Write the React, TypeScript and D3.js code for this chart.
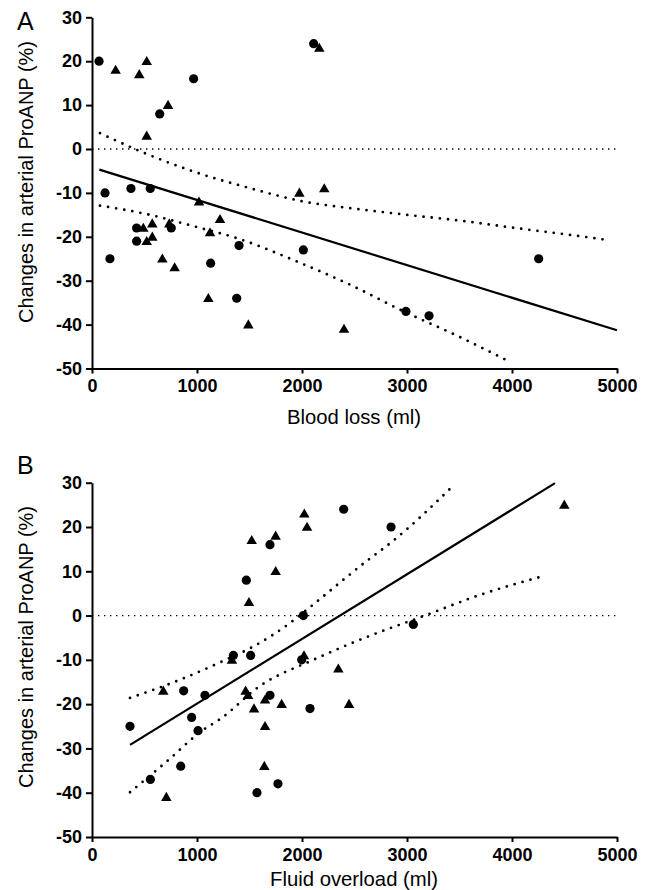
import React, { useEffect, useRef } from 'react';
import * as d3 from 'd3';

// Panel A: blood loss (ml) vs change in arterial ProANP (%)
const circlesA: [number, number][] = [
  [67, 20], [968, 16], [645, 8], [2111, 24], [124, -10], [371, -9], [555, -9],
  [425, -18], [755, -18], [425, -21], [1400, -22], [2013, -23], [171, -25],
  [1130, -26], [1378, -34], [4254, -25], [2990, -37], [3210, -38],
];
const trianglesA: [number, number][] = [
  [225, 18], [450, 17], [521, 20], [724, 10], [521, 3], [2165, 23], [1975, -10],
  [2212, -9], [1019, -12], [489, -18], [574, -17], [736, -17], [1219, -16],
  [521, -21], [574, -20], [1124, -19], [670, -25], [787, -27], [1108, -34],
  [1489, -40], [2400, -41],
];
const fitA: [number, number][] = [[70, -4.7], [5000, -41.3]];
const upperA: [number, number][] = [
  [76, 3.6], [457, -0.5], [1000, -5.4], [1500, -8.9], [2000, -11.9], [2500, -13.6],
  [3000, -15], [3568, -16.5], [4000, -17.9], [4500, -19.4], [4933, -20.8],
];
const lowerA: [number, number][] = [
  [76, -12.9], [552, -15], [1000, -17.8], [1378, -20.3], [1949, -25.6],
  [2500, -31.4], [2933, -36.6], [3500, -42.8], [3997, -48.7],
];

// Panel B: fluid overload (ml) vs change in arterial ProANP (%)
const circlesB: [number, number][] = [
  [1695, 16], [2397, 24], [1470, 8], [2013, 0], [2848, 20], [3060, -2], [1997, -10],
  [2076, -21], [362, -25], [873, -17], [1076, -18], [949, -23], [1010, -26],
  [1346, -9], [1511, -9], [1695, -18], [845, -34], [556, -37], [1771, -38], [1571, -40],
];
const trianglesB: [number, number][] = [
  [1521, 17], [1749, 18], [2022, 23], [2048, 20], [1749, 10], [1495, 3], [4498, 25],
  [2019, -9], [2346, -12], [2448, -20], [679, -17], [1333, -10], [1463, -17],
  [1486, -18], [1648, -19], [1543, -21], [1806, -20], [1648, -25], [1641, -34], [708, -41],
];
const fitB: [number, number][] = [[362, -29.2], [4410, 29.9]];
const upperB: [number, number][] = [
  [362, -18.6], [838, -14.5], [1235, -10.4], [1536, -7], [1902, -1.4], [2092, 2.2],
  [2632, 12.6], [2838, 16.3], [3457, 29.7],
];
const lowerB: [number, number][] = [
  [362, -39.9], [700, -33.2], [1060, -25.8], [1219, -23.4], [1600, -15.9],
  [2108, -10], [2632, -4.7], [3171, 0], [3700, 4.7], [4314, 9],
];

const xTicks = [0, 1000, 2000, 3000, 4000, 5000];
const yTicks = [-50, -40, -30, -20, -10, 0, 10, 20, 30];

const FONT = '"Liberation Sans", Arial, Helvetica, sans-serif';

export default function App() {
  const svgRef = useRef<SVGSVGElement>(null);

  useEffect(() => {
    const svg = d3.select(svgRef.current);
    svg.selectAll('*').remove();

    const panels = [
      {
        letter: 'A', top: 17.3, bottom: 368.5, xTitle: 'Blood loss (ml)', titleY: 424,
        labelY: 182, letterY: 30, circles: circlesA, triangles: trianglesA,
        fit: fitA, upper: upperA, lower: lowerA,
      },
      {
        letter: 'B', top: 482.7, bottom: 837, xTitle: 'Fluid overload (ml)', titleY: 886,
        labelY: 647, letterY: 474, circles: circlesB, triangles: trianglesB,
        fit: fitB, upper: upperB, lower: lowerB,
      },
    ];

    panels.forEach(p => {
      const x = d3.scaleLinear().domain([0, 5000]).range([92, 617]);
      const y = d3.scaleLinear().domain([-50, 30]).range([p.bottom, p.top]);
      const g = svg.append('g');

      // zero reference line
      g.append('line')
        .attr('x1', x(0)).attr('x2', x(5000)).attr('y1', y(0)).attr('y2', y(0))
        .attr('stroke', '#000').attr('stroke-width', 1.3).attr('stroke-dasharray', '1.4 4.6');

      const line = d3.line<[number, number]>().x(d => x(d[0])).y(d => y(d[1])).curve(d3.curveMonotoneX);

      // confidence bands
      [p.upper, p.lower].forEach(band => {
        g.append('path').datum(band).attr('d', line).attr('fill', 'none')
          .attr('stroke', '#000').attr('stroke-width', 2.8)
          .attr('stroke-linecap', 'round').attr('stroke-dasharray', '0 8.2');
      });

      // regression line
      g.append('path').datum(p.fit).attr('d', line).attr('fill', 'none')
        .attr('stroke', '#000').attr('stroke-width', 2.2);

      // points
      g.selectAll('.circ').data(p.circles).join('circle').attr('class', 'circ')
        .attr('cx', d => x(d[0])).attr('cy', d => y(d[1])).attr('r', 4.6).attr('fill', '#000');
      const tri = d3.symbol().type(d3.symbolTriangle).size(48);
      g.selectAll('.tri').data(p.triangles).join('path').attr('class', 'tri')
        .attr('d', tri).attr('fill', '#000')
        .attr('transform', d => `translate(${x(d[0])},${y(d[1]) + 0.8})`);

      // axes
      const yAxis = g.append('g').attr('transform', `translate(${x(0)},0)`)
        .call(d3.axisLeft(y).tickValues(yTicks).tickFormat(d => String(d))
          .tickSize(6).tickSizeOuter(0).tickPadding(4));
      const xAxis = g.append('g').attr('transform', `translate(0,${y(-50)})`)
        .call(d3.axisBottom(x).tickValues(xTicks).tickFormat(d => String(d))
          .tickSize(5).tickSizeOuter(0).tickPadding(6));
      [yAxis, xAxis].forEach(a => {
        a.attr('font-family', FONT).attr('font-size', 18);
        a.selectAll('path, line').attr('stroke', '#000').attr('stroke-width', 2);
        a.selectAll('text').attr('fill', '#000').style('font-weight', 'bold')
          .style('font-family', FONT).style('font-size', '18px');
      });

      // titles
      g.append('text').attr('x', 354).attr('y', p.titleY).attr('text-anchor', 'middle')
        .attr('font-family', FONT).attr('font-size', 20.3).attr('fill', '#000').text(p.xTitle);
      g.append('text').attr('transform', `translate(33,${p.labelY}) rotate(-90)`)
        .attr('text-anchor', 'middle').attr('font-family', FONT).attr('font-size', 20)
        .attr('fill', '#000').text('Changes in arterial ProANP (%)');
      g.append('text').attr('x', 17).attr('y', p.letterY).attr('font-family', FONT)
        .attr('font-size', 25).attr('fill', '#000').text(p.letter);
    });
  }, []);

  return (
    <div style={{ position: 'absolute', left: 0, top: 0, width: 650, height: 890, background: '#fff' }}>
      <svg ref={svgRef} width={650} height={890} style={{ display: 'block' }} />
    </div>
  );
}
